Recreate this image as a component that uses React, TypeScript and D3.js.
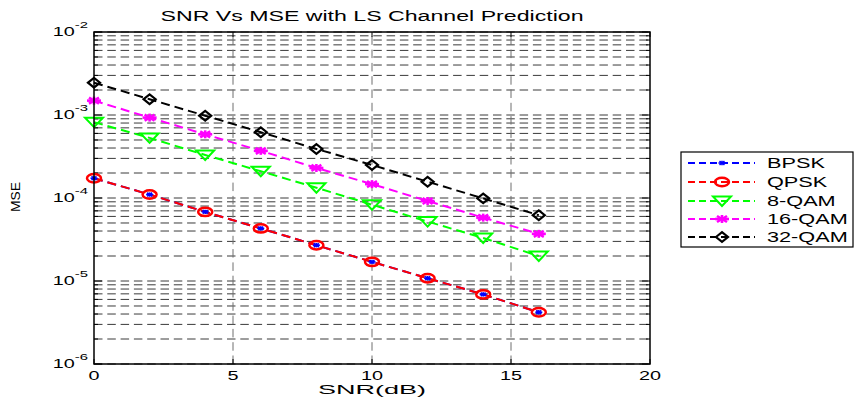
import React from "react";
import * as d3 from "d3";

// SNR (dB) sample points
const snr = [0, 2, 4, 6, 8, 10, 12, 14, 16];

// MSE per modulation
const bpsk = [1.73e-4, 1.1e-4, 6.8e-5, 4.3e-5, 2.7e-5, 1.7e-5, 1.08e-5, 6.9e-6, 4.2e-6];
const qpsk = [1.73e-4, 1.1e-4, 6.8e-5, 4.3e-5, 2.7e-5, 1.7e-5, 1.08e-5, 6.9e-6, 4.2e-6];
const qam8 = [8.2e-4, 5.3e-4, 3.3e-4, 2.1e-4, 1.33e-4, 8.3e-5, 5.2e-5, 3.3e-5, 2.0e-5];
const qam16 = [1.49e-3, 9.3e-4, 5.85e-4, 3.7e-4, 2.3e-4, 1.47e-4, 9.2e-5, 5.8e-5, 3.7e-5];
const qam32 = [2.45e-3, 1.55e-3, 9.8e-4, 6.2e-4, 3.9e-4, 2.5e-4, 1.57e-4, 9.9e-5, 6.2e-5];

const seriesNames = ["BPSK", "QPSK", "8-QAM", "16-QAM", "32-QAM"];
const xTicks = [0, 5, 10, 15, 20];
const yDecades = [-6, -5, -4, -3, -2];

const W = 857, H = 400;
const margin = { top: 32, right: 209, bottom: 36, left: 94 };
const FONT = "Arial, 'Liberation Sans', Helvetica, sans-serif";

const styles = [
  { color: "#0000ff", marker: "star" },
  { color: "#ff0000", marker: "circle" },
  { color: "#00ff00", marker: "tri" },
  { color: "#ff00ff", marker: "fstar" },
  { color: "#000000", marker: "diamond" },
];

function Marker({ kind, x, y, color }: { kind: string; x: number; y: number; color: string }) {
  const t = `translate(${x},${y})`;
  if (kind === "circle")
    return <ellipse transform={t} rx={7} ry={4.2} fill="none" stroke={color} strokeWidth={2.5} />;
  if (kind === "diamond")
    return <path transform={t} d="M-6,0L0,-4.8L6,0L0,4.8Z" fill="none" stroke={color} strokeWidth={2.2} />;
  if (kind === "tri")
    return <path transform={t} d="M-9,-4.5L9,-4.5L0,5Z" fill="none" stroke={color} strokeWidth={2} strokeLinejoin="miter" />;
  if (kind === "fstar")
    return (
      <g transform={t} stroke={color} strokeWidth={2.6}>
        <line x1={-7} y1={0} x2={7} y2={0} />
        <line x1={0} y1={-4} x2={0} y2={4} />
        <line x1={-5} y1={-3} x2={5} y2={3} />
        <line x1={-5} y1={3} x2={5} y2={-3} />
      </g>
    );
  return (
    <g transform={t} stroke={color} strokeWidth={1.6}>
      <line x1={-3.5} y1={0} x2={3.5} y2={0} />
      <line x1={0} y1={-2.2} x2={0} y2={2.2} />
      <line x1={-2.5} y1={-1.8} x2={2.5} y2={1.8} />
      <line x1={-2.5} y1={1.8} x2={2.5} y2={-1.8} />
    </g>
  );
}

export default function App() {
  const x = d3.scaleLinear().domain([0, 20]).range([margin.left, W - margin.right + 2]);
  const y = d3.scaleLog().domain([1e-6, 1e-2]).range([H - margin.bottom, margin.top]);
  const [x0, x1] = x.range();
  const [y0, y1] = y.range();

  const data = [bpsk, qpsk, qam8, qam16, qam32];
  const line = d3
    .line<number>()
    .x((_, i) => x(snr[i]))
    .y((d) => y(d));

  // minor + major log grid values
  const gridVals: number[] = [];
  for (let e = -6; e < -2; e++) for (let m = 1; m < 10; m++) gridVals.push(m * Math.pow(10, e));
  gridVals.push(1e-2);

  const legX = 681, legY = 152, legW = 172, legH = 95;
  const legRows = [163, 182, 201, 219, 237].map((v) => v - legY);

  return (
    <svg width={W} height={H} style={{ position: "absolute", left: 0, top: 0, background: "#fff" }} fontFamily={FONT}>
      <rect width={W} height={H} fill="#fff" />
      {/* grid */}
      <g stroke="#3a3a3a" strokeWidth={1} strokeDasharray="8.5,4.8">
        {gridVals.map((v, i) => (
          <line key={i} x1={x0} x2={x1} y1={y(v)} y2={y(v)} />
        ))}
      </g>
      <g stroke="#6e6e6e" strokeWidth={1} strokeDasharray="8.5,4.8">
        {xTicks.slice(1, -1).map((t) => (
          <line key={t} x1={x(t)} x2={x(t)} y1={y0} y2={y1} />
        ))}
      </g>
      {/* ticks */}
      <g stroke="#000" strokeWidth={1}>
        {xTicks.map((t) => (
          <g key={t}>
            <line x1={x(t)} x2={x(t)} y1={y0} y2={y0 - 5} />
            <line x1={x(t)} x2={x(t)} y1={y1} y2={y1 + 5} />
          </g>
        ))}
        {gridVals.map((v, i) => {
          const major = i % 9 === 0;
          const l = major ? 8 : 4;
          return (
            <g key={i}>
              <line x1={x0} x2={x0 + l} y1={y(v)} y2={y(v)} />
              <line x1={x1} x2={x1 - l} y1={y(v)} y2={y(v)} />
            </g>
          );
        })}
      </g>
      {/* series */}
      {data.map((d, si) => (
        <path key={si} d={line(d) || ""} fill="none" stroke={styles[si].color} strokeWidth={2} strokeDasharray="9,5" />
      ))}
      {data.map((d, si) =>
        si === 0
          ? null
          : d.map((v, i) => <Marker key={si + "-" + i} kind={styles[si].marker} x={x(snr[i])} y={y(v)} color={styles[si].color} />)
      )}
      {bpsk.map((v, i) => (
        <Marker key={"b" + i} kind={styles[0].marker} x={x(snr[i])} y={y(v)} color={styles[0].color} />
      ))}
      {/* axes box */}
      <rect x={x0} y={y1} width={x1 - x0} height={y0 - y1} fill="none" stroke="#000" strokeWidth={1.5} />
      {/* y tick labels */}
      {yDecades.map((e) => (
        <g key={e} transform={`translate(${x0 - 6},${y(Math.pow(10, e)) + 4}) scale(1.65,1)`}>
          <text textAnchor="end" fontSize={12} fill="#000">
            10
            <tspan fontSize={9} dy={-8}>
              {String(e)}
            </tspan>
          </text>
        </g>
      ))}
      {/* x tick labels */}
      {xTicks.map((t) => (
        <g key={t} transform={`translate(${x(t)},${y0 + 16}) scale(1.65,1)`}>
          <text textAnchor="middle" fontSize={12} fill="#000">
            {t}
          </text>
        </g>
      ))}
      {/* title and axis labels */}
      <text x={(x0 + x1) / 2} y={21} textAnchor="middle" fontSize={14} textLength={423} lengthAdjust="spacingAndGlyphs">
        SNR Vs MSE with LS Channel Prediction
      </text>
      <text x={(x0 + x1) / 2} y={394} textAnchor="middle" fontSize={13} textLength={108} lengthAdjust="spacingAndGlyphs">
        SNR(dB)
      </text>
      <g transform={`translate(20,197) scale(1.1,1) rotate(-90)`}>
        <text textAnchor="middle" fontSize={12} textLength={30} lengthAdjust="spacingAndGlyphs">
          MSE
        </text>
      </g>
      {/* legend */}
      <g transform={`translate(${legX},${legY})`}>
        <rect width={legW} height={legH} fill="#fff" stroke="#000" strokeWidth={1.2} />
        {seriesNames.map((name, i) => (
          <g key={name} transform={`translate(0,${legRows[i]})`}>
            <line x1={7} x2={74} y1={0} y2={0} stroke={styles[i].color} strokeWidth={2} strokeDasharray="7,4" />
            <Marker kind={styles[i].marker} x={41} y={0} color={styles[i].color} />
            <g transform="translate(86,5) scale(1.55,1)">
              <text fontSize={14} fill="#000">
                {name}
              </text>
            </g>
          </g>
        ))}
      </g>
    </svg>
  );
}
